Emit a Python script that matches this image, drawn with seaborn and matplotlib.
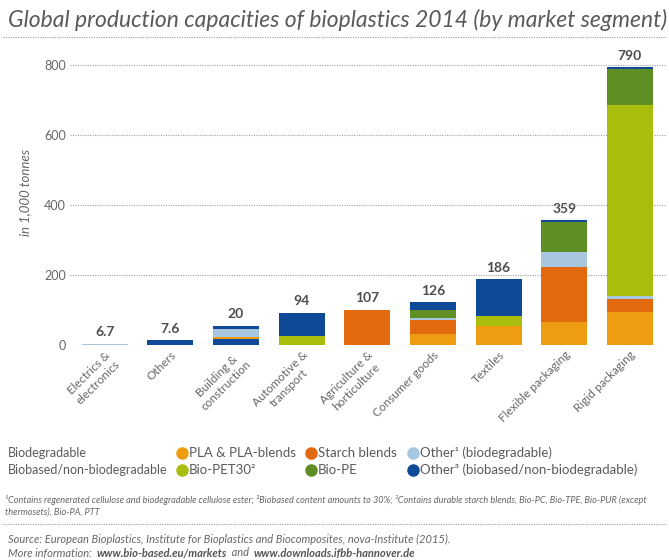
import numpy as np
import seaborn as sns
import matplotlib.pyplot as plt
from matplotlib.lines import Line2D

# segmenti di mercato (asse x)
segmenti = ["Electrics &\nelectronics", "Others", "Building &\nconstruction",
            "Automotive &\ntransport", "Agriculture &\nhorticulture",
            "Consumer goods", "Textiles", "Flexible packaging", "Rigid packaging"]
etichette_totali = ["6.7", "7.6", "20", "94", "107", "126", "186", "359", "790"]

# strati dal basso verso l'alto (in 1.000 tonnellate)
other_nonbio_base = [0, 0, 17, 0, 0, 0, 0, 0, 0]
pla = [0, 0, 7, 0, 0, 32, 53, 67, 94]
starch = [0, 0, 0, 0, 101, 40, 0, 157, 38]
other_bio = [3, 0, 21, 0, 0, 6, 0, 43, 9]
bio_pet = [0, 0, 0, 27, 0, 0, 31, 0, 546]
bio_pe = [0, 0, 0, 0, 0, 22, 0, 84, 104]
other_nonbio = [0, 14, 10, 65, 0, 22, 104, 6, 4]

C_PLA = "#EE9D12"
C_STARCH = "#E2690E"
C_OTHER_BIO = "#A7C6E0"
C_PET = "#A9BE0C"
C_PE = "#5E8E24"
C_NAVY = "#0E4A97"

strati = [
    (other_nonbio_base, C_NAVY),
    (pla, C_PLA),
    (starch, C_STARCH),
    (other_bio, C_OTHER_BIO),
    (bio_pet, C_PET),
    (bio_pe, C_PE),
    (other_nonbio, C_NAVY),
]

sns.set_theme(style="white")
plt.rcParams["font.family"] = ["Lato", "DejaVu Sans"]

GRIGIO = "#5a5a5a"

fig = plt.figure(figsize=(6.69, 5.6), dpi=100)
ax = fig.add_axes([70 / 669, 1 - 345 / 560, 596 / 669, (345 - 55) / 560])

# somme cumulate, disegnate dall'alto verso il basso (ogni strato copre il precedente)
cumulate = np.cumsum(np.array([s[0] for s in strati]), axis=0)
for i in range(len(strati) - 1, -1, -1):
    sns.barplot(x=segmenti, y=cumulate[i], color=strati[i][1], saturation=1,
                width=0.7, linewidth=0, ax=ax, order=segmenti)

totali = cumulate[-1]
for i, lab in enumerate(etichette_totali):
    ax.annotate(lab, (i, totali[i]), xytext=(0, 4), textcoords="offset points",
                ha="center", va="bottom", fontsize=10, fontweight="bold",
                color="#4d4d4d", annotation_clip=False)

ax.set_xlim(-0.53, 8.55)
ax.set_ylim(0, 830)
ax.set_yticks([0, 200, 400, 600, 800])
ax.yaxis.grid(True, linestyle=(0, (1, 1.2)), color="#a0a0a0", linewidth=0.8)
ax.set_axisbelow(True)
for s in ax.spines.values():
    s.set_visible(False)
ax.tick_params(axis="y", length=0, pad=3, labelsize=9, labelcolor="#666666")
ax.tick_params(axis="x", length=0, pad=3, labelsize=8.5, labelcolor="#666666")
plt.setp(ax.get_xticklabels(), rotation=45, ha="right", rotation_mode="anchor",
         multialignment="center")
ax.set_xlabel("")
ax.set_ylabel("")

fig.text(25 / 669, 1 - 192 / 560, "in 1,000 tonnes", rotation=90, style="italic",
         fontsize=9.5, color="#666666", ha="center", va="center")

# titolo e separatori
fig.text(8 / 669, 1 - 20 / 560,
         "Global production capacities of bioplastics 2014 (by market segment)",
         style="italic", fontsize=16.5, color=GRIGIO, ha="left", va="center")
for yy in (37, 524):
    fig.add_artist(Line2D([0.005, 0.995], [1 - yy / 560] * 2, transform=fig.transFigure,
                          linestyle=(0, (1, 1.2)), color="#999999", linewidth=0.8))

# legenda
righe = [
    (453, "Biodegradable", [(C_PLA, "PLA & PLA-blends"), (C_STARCH, "Starch blends"),
                            (C_OTHER_BIO, "Other¹ (biodegradable)")]),
    (470, "Biobased/non-biodegradable", [(C_PET, "Bio-PET30²"), (C_PE, "Bio-PE"),
                                         (C_NAVY, "Other³ (biobased/non-biodegradable)")]),
]
colonne_x = [182, 311, 413]
for yy, titolo, voci in righe:
    fy = 1 - yy / 560
    fig.text(8 / 669, fy, titolo, fontsize=9, color=GRIGIO, va="center")
    for cx, (col, testo) in zip(colonne_x, voci):
        fig.add_artist(Line2D([cx / 669], [fy], marker="o", markersize=8, color=col,
                              linestyle="none", transform=fig.transFigure))
        fig.text((cx + 7) / 669, fy, testo, fontsize=9.5, color=GRIGIO, va="center")

fig.text(5 / 669, 1 - 495 / 560,
         "¹Contains regenerated cellulose and biodegradable cellulose ester; ²Biobased content amounts to 30%; "
         "³Contains durable starch blends, Bio-PC, Bio-TPE, Bio-PUR (except\nthermosets), Bio-PA, PTT",
         style="italic", fontsize=6.6, color="#666666", va="top", linespacing=1.4)

fig.text(8 / 669, 1 - 539 / 560,
         "Source: European Bioplastics, Institute for Bioplastics and Biocomposites, nova-Institute (2015).",
         style="italic", fontsize=8, color="#666666", va="center")

# riga "More information" composta da pezzi in sequenza
pezzi = [("More information: ", "normal", "#666666"),
         ("www.bio-based.eu/markets", "bold", "#555555"),
         (" and ", "normal", "#666666"),
         ("www.downloads.ifbb-hannover.de", "bold", "#555555")]
fig.canvas.draw()
renderer = fig.canvas.get_renderer()
x_px = 8
for testo, peso, col in pezzi:
    t = fig.text(x_px / 669, 1 - 553 / 560, testo, style="italic", fontweight=peso,
                 fontsize=8, color=col, va="center")
    x_px += t.get_window_extent(renderer).width + 2

fig.savefig("out.png", dpi=100, facecolor="white")
